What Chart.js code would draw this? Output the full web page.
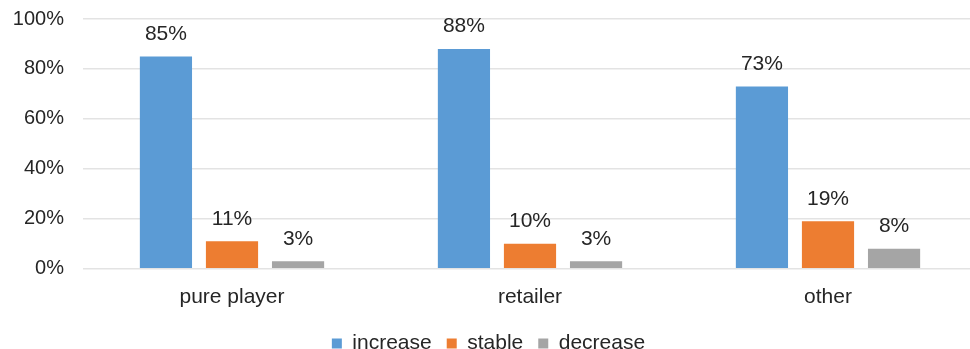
<!DOCTYPE html>
<html>
<head>
<meta charset="utf-8">
<script src="https://cdn.jsdelivr.net/npm/chart.js@4/dist/chart.umd.min.js"></script>
<style>
  html, body { margin: 0; padding: 0; background: #fff; overflow: hidden; }
  #wrap { width: 977px; height: 349px; position: relative; }
</style>
</head>
<body>
<div id="wrap"><canvas id="chart"></canvas></div>
<script>
const categories = ['pure player', 'retailer', 'other'];
const increase = [85, 88, 73];
const stable = [11, 10, 19];
const decrease = [3, 3, 8];
const yTicks = [0, 20, 40, 60, 80, 100];

const FONT = '"Liberation Sans", Arial, sans-serif';

// draws the value labels above each bar
const barLabels = {
  id: 'barLabels',
  afterDatasetsDraw(chart) {
    const ctx = chart.ctx;
    ctx.save();
    ctx.font = '21px ' + FONT;
    ctx.fillStyle = '#262626';
    ctx.textAlign = 'center';
    ctx.textBaseline = 'bottom';
    chart.data.datasets.forEach((ds, i) => {
      chart.getDatasetMeta(i).data.forEach((bar, j) => {
        ctx.fillText(ds.data[j] + '%', bar.x, bar.y - 12);
      });
    });
    ctx.restore();
  },
};

const ctx = document.getElementById('chart');
new Chart(ctx, {
  type: 'bar',
  data: {
    labels: categories,
    datasets: [
      { label: 'increase', data: increase, backgroundColor: '#5B9BD5' },
      { label: 'stable', data: stable, backgroundColor: '#ED7D31' },
      { label: 'decrease', data: decrease, backgroundColor: '#A5A5A5' },
    ],
  },
  options: {
    responsive: true,
    maintainAspectRatio: false,
    animation: false,
    datasets: {
      bar: { categoryPercentage: 0.665, barPercentage: 0.79 },
    },
    layout: { padding: { top: 0, right: 0, bottom: -15, left: 0 } },
    plugins: {
      legend: {
        position: 'bottom',
        labels: {
          color: '#262626',
          font: { size: 21, family: FONT },
          boxWidth: 10,
          boxHeight: 10,
          padding: 15,
        },
      },
      tooltip: { enabled: false },
    },
    scales: {
      y: {
        min: 0,
        max: 100,
        afterBuildTicks: (scale) => {
          scale.ticks = yTicks.map((v) => ({ value: v }));
        },
        afterFit: (scale) => {
          scale.width = 83;
          scale.paddingTop = 19;
          scale.paddingBottom = 0;
        },
        ticks: {
          color: '#262626',
          font: { size: 20, family: FONT },
          padding: 19,
          callback: (v) => v + '%',
        },
        grid: { color: '#e3e3e3', lineWidth: 1.5, drawTicks: false },
        border: { display: false },
      },
      x: {
        ticks: {
          color: '#262626',
          font: { size: 21, family: FONT },
          padding: 8,
        },
        grid: { display: false },
        border: { display: false },
      },
    },
  },
  plugins: [barLabels],
});
</script>
</body>
</html>
